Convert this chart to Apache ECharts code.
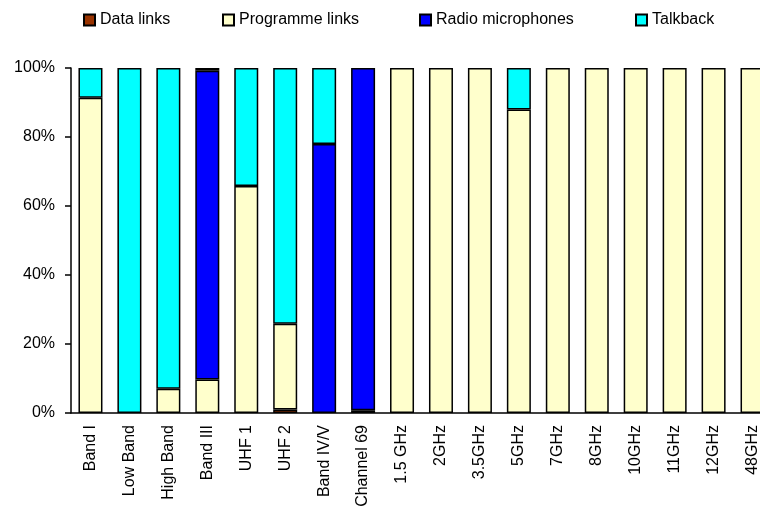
<!DOCTYPE html>
<html>
<head>
<meta charset="utf-8">
<script src="https://cdn.jsdelivr.net/npm/echarts@6/dist/echarts.min.js"></script>
<style>
  html, body { margin: 0; padding: 0; background: #fff; }
  #chart { width: 760px; height: 512px; }
</style>
</head>
<body>
<div id="chart"></div>
<script>
// Share of assignments per frequency band, by service type (percent)
const categories = ['Band I', 'Low Band', 'High Band', 'Band III', 'UHF 1', 'UHF 2', 'Band IV/V',
  'Channel 69', '1.5 GHz', '2GHz', '3.5GHz', '5GHz', '7GHz', '8GHz', '10GHz', '11GHz', '12GHz', '48GHz'];

const dataLinks        = [0, 0, 0, 0, 0, 1.0, 0, 0, 0, 0, 0, 0, 0, 0, 0, 0, 0, 0];
const programmeLinks   = [91.4, 0, 7.0, 9.7, 65.8, 24.9, 0, 0.8, 100, 100, 100, 88.0, 100, 100, 100, 100, 100, 100];
const radioMicrophones = [0, 0, 0, 89.5, 0, 0, 78.0, 99.2, 0, 0, 0, 0, 0, 0, 0, 0, 0, 0];
const talkback         = [8.6, 100, 93.0, 0.8, 34.2, 74.1, 22.0, 0, 0, 0, 0, 12.0, 0, 0, 0, 0, 0, 0];

const yTicks = [0, 20, 40, 60, 80, 100];

const seriesDefs = [
  { name: 'Data links', values: dataLinks, color: '#993300' },
  { name: 'Programme links', values: programmeLinks, color: '#FFFFCC' },
  { name: 'Radio microphones', values: radioMicrophones, color: '#0000FF' },
  { name: 'Talkback', values: talkback, color: '#00FFFF' }
];

const FONT = '"Liberation Sans", Arial, sans-serif';
const legendLefts = [83, 222, 419, 635];

const chart = echarts.init(document.getElementById('chart'), null, { renderer: 'canvas' });

chart.setOption({
  animation: false,
  backgroundColor: '#ffffff',
  textStyle: { fontFamily: FONT, color: '#000' },
  legend: seriesDefs.map((s, i) => ({
    data: [s.name],
    left: legendLefts[i],
    top: 12,
    padding: 0,
    itemWidth: 11,
    itemHeight: 11,
    icon: 'rect',
    selectedMode: false,
    textStyle: { fontFamily: FONT, fontSize: 16, color: '#000' }
  })),
  // the plot runs past the right edge of the page, so the last bar is clipped
  grid: { left: 71, top: 68, width: 701, height: 345, outerBoundsMode: 'none' },
  xAxis: {
    type: 'category',
    data: categories,
    axisLine: { show: true, lineStyle: { color: '#000', width: 1.5 } },
    axisTick: { show: false },
    axisLabel: { rotate: 90, interval: 0, margin: 12, fontFamily: FONT, fontSize: 16, color: '#000' },
    splitLine: { show: false }
  },
  yAxis: {
    type: 'value',
    min: yTicks[0],
    max: yTicks[yTicks.length - 1],
    interval: yTicks[1] - yTicks[0],
    axisLine: { show: true, lineStyle: { color: '#000', width: 1.5 } },
    axisTick: { show: true, inside: false, length: 6, lineStyle: { color: '#000', width: 1.5 } },
    axisLabel: { formatter: '{value}%', margin: 16, fontFamily: FONT, fontSize: 16, color: '#000' },
    splitLine: { show: false }
  },
  series: seriesDefs.map(s => ({
    name: s.name,
    type: 'bar',
    stack: 'share',
    barWidth: 24,
    data: s.values.map(v => (v === 0 ? '-' : v)),
    itemStyle: { color: s.color, borderColor: '#000', borderWidth: 1.5 },
    emphasis: { disabled: true }
  }))
});
</script>
</body>
</html>
